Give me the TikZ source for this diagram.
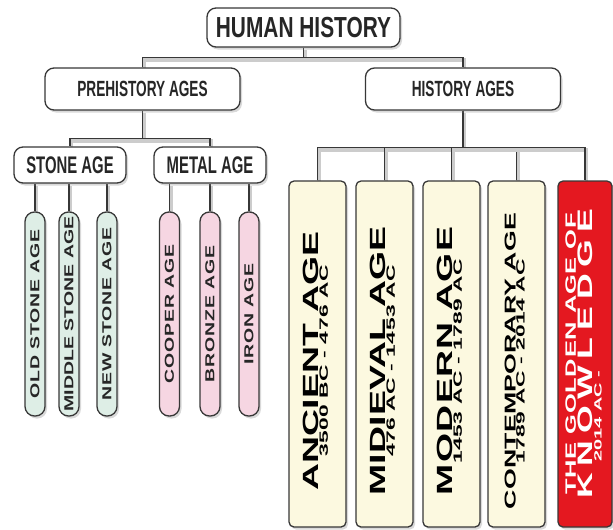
\documentclass[tikz,border=0pt]{standalone}
\usepackage{fontspec}
\setmainfont{Liberation Sans}
\newfontfamily\titlefont[FakeStretch=0.72]{Liberation Sans}
\newfontfamily\condfont[FakeStretch=0.62]{Liberation Sans}
\newfontfamily\widefont[FakeStretch=1.5]{Liberation Sans}
\newfontfamily\agefont[FakeStretch=1.7]{Liberation Sans}
\newfontfamily\datefont[FakeStretch=1.9]{Liberation Sans}
\usepackage{graphicx}
\usepackage{xcolor}
\usetikzlibrary{shadows, backgrounds}

\definecolor{linec}{RGB}{55,55,55}
\definecolor{textc}{RGB}{38,38,38}
\definecolor{cream}{RGB}{252,249,224}
\definecolor{mint}{RGB}{222,238,230}
\definecolor{rosa}{RGB}{246,214,226}
\definecolor{goldred}{RGB}{228,24,32}

% vertical label of an age box: size, spacing, name, dates
\newcommand{\agelabel}[4]{\rotatebox{90}{\begin{tabular}{@{}c@{}}
  {\agefont\fontsize{#1}{#1}\selectfont\addfontfeature{LetterSpace=#2}#3}\\[-3pt]
  {\datefont\addfontfeature{LetterSpace=3}#4}
\end{tabular}\hspace*{14pt}}}

\begin{document}
\begin{tikzpicture}[x=1pt, y=-1pt,
    box/.style={draw=linec, line width=1.3pt, rounded corners=9pt, fill=white,
        text=textc, inner sep=0pt,
        drop shadow={shadow xshift=2pt, shadow yshift=-2.5pt, opacity=0.3}},
    topbox/.style={box, minimum width=193pt, minimum height=39pt,
        font=\titlefont\bfseries\fontsize{29}{29}\selectfont},
    agebox/.style={box, minimum width=195pt, minimum height=42pt,
        font=\condfont\bfseries\fontsize{22}{22}\selectfont},
    subbox/.style={box, minimum width=112pt, minimum height=36pt,
        font=\condfont\bfseries\fontsize{24}{24}\selectfont},
    pill/.style={box, rounded corners=9.5pt, minimum width=20pt, minimum height=204pt,
        font=\widefont\bfseries\fontsize{13}{13}\selectfont\addfontfeature{LetterSpace=6}},
    histbox/.style={box, rounded corners=5pt, fill=cream, minimum width=57pt,
        minimum height=346pt, text=black,
        font=\datefont\bfseries\fontsize{12}{12}\selectfont},
    conn/.style={draw=linec, line width=1.1pt,
        preaction={draw=black!20, line width=3.5pt,
            transform canvas={shift={(1.5pt,-2.5pt)}}}}]
    \useasboundingbox (0,0) rectangle (613,530);

    % Levels 1 and 2
    \node[topbox] (human) at (303.5,27.5) {HUMAN HISTORY};
    \node[agebox] (pre) at (142.5,89) {PREHISTORY AGES};
    \node[agebox] (hist) at (463,89) {HISTORY AGES};

    % Prehistory
    \node[subbox] (stone) at (70,165) {STONE AGE};
    \node[subbox] (metal) at (210,165) {METAL AGE};
    \node[pill, fill=mint] (old) at (35,314) {\rotatebox{90}{OLD STONE AGE}};
    \node[pill, fill=mint] (middle) at (69,314) {\rotatebox{90}{\addfontfeature{LetterSpace=0}MIDDLE STONE AGE}};
    \node[pill, fill=mint] (new) at (107,314) {\rotatebox{90}{NEW STONE AGE}};
    \node[pill, fill=rosa] (cooper) at (169.5,314) {\rotatebox{90}{COOPER AGE}};
    \node[pill, fill=rosa] (bronze) at (210,314) {\rotatebox{90}{BRONZE AGE}};
    \node[pill, fill=rosa] (iron) at (249,314) {\rotatebox{90}{IRON AGE}};

    % History
    \node[histbox] (ancient) at (317.5,354) {\agelabel{22}{1}{ANCIENT AGE}{3500 BC - 476 AC}};
    \node[histbox] (midieval) at (384.5,354) {\agelabel{22}{1}{MIDIEVAL AGE}{476 AC - 1453 AC}};
    \node[histbox] (modern) at (451.5,354) {\agelabel{22}{6}{MODERN AGE}{1453 AC - 1789 AC}};
    \node[histbox] (contemp) at (516.5,354) {\agelabel{15.7}{1}{CONTEMPORARY AGE}{1789 AC - 2014 AC}};
    \node[histbox, fill=goldred, text=white, minimum width=54pt,
        font=\datefont\bfseries\fontsize{10.5}{10.5}\selectfont] (golden) at (585,354)
        {\rotatebox{90}{\begin{tabular}{@{}c@{}}
          {\agefont\fontsize{15}{15}\selectfont\addfontfeature{LetterSpace=5}THE GOLDEN AGE OF}\\[-1pt]
          {\agefont\fontsize{21}{21}\selectfont\addfontfeature{LetterSpace=32}KNOWLEDGE}\\[-1.5pt]
          \multicolumn{1}{@{}l@{}}{\hspace*{37pt}2014 AC -}
        \end{tabular}}};

    % Connectors
    \begin{scope}[on background layer]
        \draw[conn] (human.south) -- ++(0,10) -| (pre.north);
        \draw[conn] (human.south) -- ++(0,10) -| (hist.north);
        \draw[conn] (pre.south) -- ++(0,28) -| (stone.north);
        \draw[conn] (pre.south) -- ++(0,28) -| (metal.north);
        \foreach \p in {old, middle, new}
            \draw[conn] (\p.north) -- (\p.north |- stone.south);
        \foreach \p in {cooper, bronze, iron}
            \draw[conn] (\p.north) -- (\p.north |- metal.south);
        \foreach \h in {ancient, midieval, modern, contemp, golden}
            \draw[conn] (hist.south) -- ++(0,37) -| (\h.north);
    \end{scope}
\end{tikzpicture}
\end{document}
